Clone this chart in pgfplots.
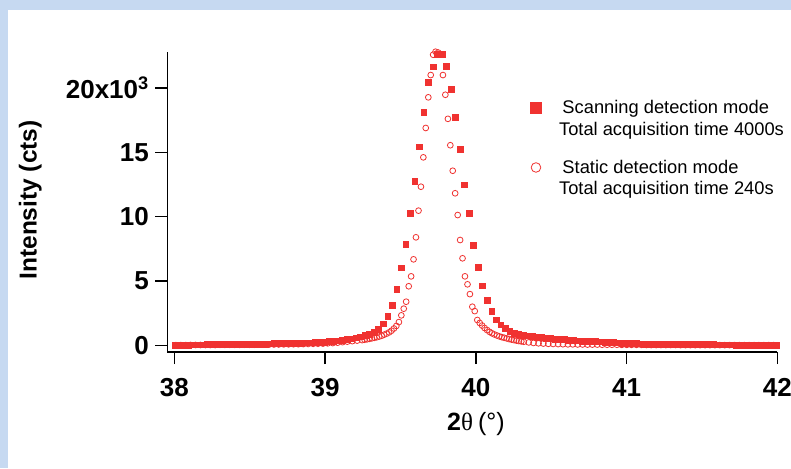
\documentclass[border=0pt]{standalone}
\usepackage{fontspec}
\setmainfont{Liberation Sans}
\newfontfamily\greekserif{Liberation Serif}
\usepackage{pgfplots}
\pgfplotsset{compat=1.18}
\definecolor{ptred}{RGB}{240,50,48}
\definecolor{bgblue}{RGB}{198,217,241}
\pgfplotsset{
  sqleg/.style={legend image code/.code={\draw[##1, mark size=5.3pt] plot coordinates {(0pt,6pt)};}},
  ocleg/.style={legend image code/.code={\draw[##1, mark size=4.8pt, line width=1pt] plot coordinates {(0pt,6pt)};}},
}

\begin{document}
\begin{tikzpicture}
\path[use as bounding box] (-167.3pt,-116pt) rectangle (623.7pt,352pt);
\fill[bgblue] (-167.3pt,-116pt) rectangle (623.7pt,352pt);
\fill[white] (-159.3pt,-116pt) rectangle (623.7pt,342pt);
\begin{axis}[
  at={(0pt,0pt)}, anchor=south west,
  scale only axis, width=610pt, height=300pt,
  xmin=37.9536, xmax=42, ymin=-0.505, ymax=22.79,
  axis x line=bottom, axis y line=left,
  axis line style={-, line width=1.4pt, black},
  tick style={line width=1.4pt, black},
  tick align=outside, major tick length=12pt,
  xtick={38,39,40,41,42},
  xticklabels={38,39,40,41,42},
  ytick={0,5,10,15,20},
  yticklabels={0,5,10,15,{20x10\textsuperscript{3}}},
  /pgf/number format/assume math mode=true,
  tick label style={font=\fontsize{26}{26}\selectfont\bfseries},
  xticklabel style={yshift=-11pt},
  yticklabel style={xshift=-3pt},
  xlabel={{\bfseries 2}{\greekserif θ}\hspace{5pt}(°)},
  ylabel={Intensity (cts)},
  every axis x label/.style={at={(axis description cs:0.506,-0.24)}, anchor=center, font=\fontsize{25}{25}\selectfont},
  every axis y label/.style={at={(axis description cs:-0.2244,0.507)}, rotate=90, anchor=center, font=\fontsize{24.5}{24.5}\selectfont\bfseries},
  legend style={draw=none, fill=none, at={(axis description cs:0.5954,0.8457)}, anchor=north west,
    inner sep=0pt, row sep=43.4pt, column sep=17.8pt,
    font=\fontsize{18.3}{21.5}\selectfont, cells={anchor=base west}, nodes={inner sep=0pt}},
  clip=false,
]
% scanning detection mode
\addplot[only marks, mark=square*, mark size=2.9pt, color=ptred, sqleg]
  table {
38.005 0.05
38.035 0.05
38.065 0.05
38.095 0.05
38.125 0.06
38.155 0.06
38.185 0.06
38.215 0.07
38.245 0.07
38.275 0.08
38.305 0.08
38.335 0.09
38.365 0.09
38.395 0.10
38.425 0.10
38.455 0.11
38.485 0.11
38.515 0.12
38.545 0.12
38.575 0.13
38.605 0.13
38.635 0.14
38.665 0.15
38.695 0.15
38.725 0.16
38.755 0.17
38.785 0.18
38.815 0.19
38.845 0.20
38.875 0.21
38.905 0.22
38.935 0.24
38.965 0.26
38.995 0.28
39.025 0.31
39.055 0.34
39.085 0.38
39.115 0.42
39.145 0.47
39.175 0.53
39.205 0.60
39.235 0.68
39.265 0.78
39.295 0.90
39.325 1.05
39.355 1.28
39.385 1.69
39.415 2.29
39.445 3.12
39.475 4.39
39.505 6.04
39.535 7.88
39.565 10.29
39.595 12.75
39.625 15.43
39.655 18.13
39.685 20.46
39.715 21.65
39.745 22.60
39.775 22.60
39.805 21.70
39.835 19.89
39.865 17.72
39.895 15.23
39.925 12.48
39.955 10.29
39.985 7.78
40.015 6.09
40.045 4.64
40.075 3.53
40.105 2.66
40.135 2.00
40.165 1.61
40.195 1.34
40.225 1.10
40.255 0.95
40.285 0.88
40.315 0.82
40.345 0.76
40.375 0.71
40.405 0.66
40.435 0.62
40.465 0.58
40.495 0.55
40.525 0.52
40.555 0.49
40.585 0.46
40.615 0.43
40.645 0.41
40.675 0.38
40.705 0.36
40.735 0.34
40.765 0.32
40.795 0.31
40.825 0.29
40.855 0.27
40.885 0.25
40.915 0.23
40.945 0.21
40.975 0.19
41.005 0.18
41.035 0.16
41.065 0.15
41.095 0.14
41.125 0.13
41.155 0.12
41.185 0.11
41.215 0.11
41.245 0.10
41.275 0.10
41.305 0.09
41.335 0.09
41.365 0.09
41.395 0.08
41.425 0.08
41.455 0.08
41.485 0.07
41.515 0.07
41.545 0.07
41.575 0.07
41.605 0.06
41.635 0.06
41.665 0.06
41.695 0.06
41.725 0.05
41.755 0.05
41.785 0.05
41.815 0.05
41.845 0.05
41.875 0.05
41.905 0.04
41.935 0.04
41.965 0.04
41.995 0.04
};
\addlegendentry{\begin{tabular}[t]{@{}l@{}}\hspace{3.4pt}Scanning detection mode\\Total acquisition time 4000s\end{tabular}}
% static detection mode
\addplot[only marks, mark=o, mark size=2.9pt, color=ptred, mark options={line width=0.8pt}, ocleg]
  table {
38.011 0.03
38.043 0.03
38.076 0.03
38.108 0.04
38.141 0.04
38.173 0.04
38.206 0.04
38.238 0.04
38.271 0.04
38.303 0.05
38.336 0.05
38.368 0.05
38.401 0.05
38.433 0.05
38.466 0.06
38.498 0.06
38.531 0.06
38.563 0.07
38.596 0.07
38.628 0.07
38.661 0.08
38.693 0.08
38.726 0.09
38.758 0.09
38.791 0.10
38.823 0.10
38.856 0.11
38.888 0.12
38.921 0.13
38.953 0.14
38.986 0.15
39.018 0.17
39.051 0.19
39.083 0.22
39.116 0.26
39.148 0.30
39.181 0.34
39.213 0.38
39.246 0.42
39.262 0.45
39.278 0.48
39.295 0.52
39.311 0.56
39.327 0.60
39.343 0.64
39.360 0.70
39.376 0.76
39.392 0.84
39.408 0.92
39.425 1.02
39.441 1.15
39.457 1.32
39.473 1.52
39.490 1.82
39.506 2.34
39.522 2.86
39.538 3.40
39.555 4.60
39.571 5.37
39.587 6.69
39.603 8.40
39.620 10.47
39.636 12.33
39.652 14.61
39.668 16.89
39.685 19.27
39.701 21.00
39.717 22.58
39.733 22.81
39.750 22.75
39.766 22.63
39.782 21.00
39.798 19.47
39.815 17.60
39.831 15.55
39.847 13.57
39.863 11.82
39.880 10.13
39.896 8.19
39.912 6.77
39.928 5.37
39.945 4.75
39.961 3.99
39.977 3.01
39.993 2.67
40.010 1.98
40.026 1.75
40.042 1.55
40.058 1.36
40.075 1.20
40.091 1.06
40.107 0.95
40.123 0.86
40.140 0.78
40.156 0.71
40.172 0.65
40.188 0.60
40.205 0.55
40.221 0.50
40.237 0.46
40.253 0.42
40.270 0.38
40.286 0.35
40.302 0.32
40.318 0.29
40.351 0.24
40.383 0.20
40.416 0.17
40.448 0.15
40.481 0.13
40.513 0.12
40.546 0.11
40.578 0.10
40.611 0.09
40.643 0.09
40.676 0.08
40.708 0.08
40.741 0.07
40.773 0.07
40.806 0.07
40.838 0.06
40.871 0.06
40.903 0.06
40.936 0.06
40.968 0.05
41.001 0.05
41.033 0.05
41.066 0.05
41.098 0.05
41.131 0.04
41.163 0.04
41.196 0.04
41.228 0.04
41.261 0.04
41.293 0.04
41.326 0.04
41.358 0.03
41.391 0.03
41.423 0.03
41.456 0.03
41.488 0.03
41.521 0.03
41.553 0.03
41.586 0.03
41.618 0.03
41.651 0.03
41.683 0.03
41.716 0.03
41.748 0.03
41.781 0.03
41.813 0.03
41.846 0.03
41.878 0.03
41.911 0.03
41.943 0.03
41.976 0.03
};
\addlegendentry{\begin{tabular}[t]{@{}l@{}}\hspace{3.4pt}Static detection mode\\Total acquisition time 240s\end{tabular}}
\end{axis}
\end{tikzpicture}
\end{document}
